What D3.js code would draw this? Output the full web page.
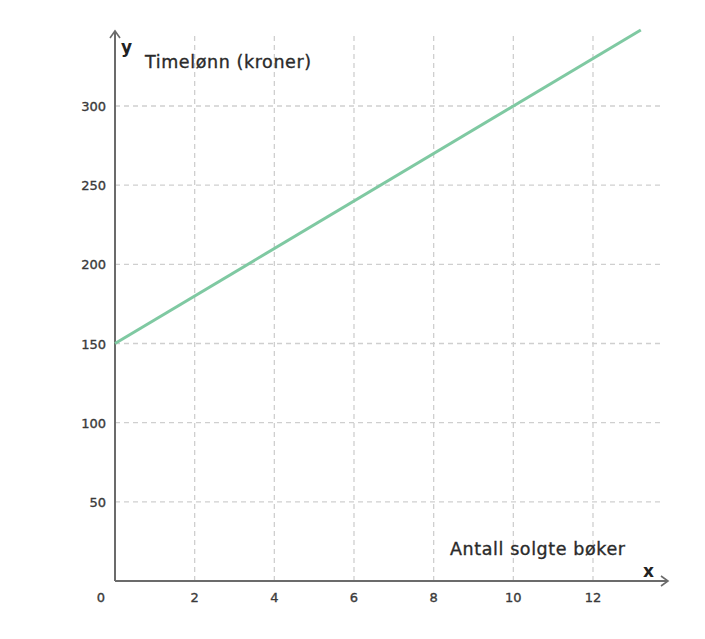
<!DOCTYPE html>
<html><head><meta charset="utf-8">
<script src="https://cdn.jsdelivr.net/npm/d3@7"></script>
<style>body{margin:0;background:#fff;} text{font-family:"DejaVu Sans","Open Sans",sans-serif;}</style>
</head><body>
<svg id="c" width="705" height="639"></svg>
<script>
const xTicks = [2, 4, 6, 8, 10, 12];
const yTicks = [50, 100, 150, 200, 250, 300];
const lineX = [0, 13.2];
const intercept = 150, slope = 15;
const lineY = lineX.map(x => intercept + slope * x);
const xLabel = "Antall solgte bøker";
const yLabel = "Timelønn (kroner)";

const svg = d3.select("#c");
const x = d3.scaleLinear().domain([0, 12]).range([115, 593]);
const y = d3.scaleLinear().domain([0, 300]).range([581, 106]);
const xMax = 13.77, yMax = 346.5;

const g = svg.append("g");
// grid
g.selectAll(".vg").data(xTicks).join("line")
  .attr("x1", d => x(d)).attr("x2", d => x(d))
  .attr("y1", y(0)).attr("y2", y(yMax))
  .attr("stroke", "#cfcfcf").attr("stroke-width", 1.3).attr("stroke-dasharray", "5,4");
g.selectAll(".hg").data(yTicks).join("line")
  .attr("y1", d => y(d)).attr("y2", d => y(d))
  .attr("x1", x(0)).attr("x2", x(xMax))
  .attr("stroke", "#cfcfcf").attr("stroke-width", 1.3).attr("stroke-dasharray", "5,4");

// axes
const axisCol = "#6b6b6b";
g.append("line").attr("x1", x(0)).attr("x2", 668).attr("y1", y(0)).attr("y2", y(0))
  .attr("stroke", axisCol).attr("stroke-width", 2);
g.append("line").attr("x1", x(0)).attr("x2", x(0)).attr("y1", y(0)).attr("y2", 31)
  .attr("stroke", axisCol).attr("stroke-width", 2);
g.append("path").attr("d", `M661,${y(0)-5} L668,${y(0)} L661,${y(0)+5}`)
  .attr("fill", "none").attr("stroke", axisCol).attr("stroke-width", 1.6);
g.append("path").attr("d", `M${x(0)-5},38 L${x(0)},31 L${x(0)+5},38`)
  .attr("fill", "none").attr("stroke", axisCol).attr("stroke-width", 1.6);

// tick labels
const tk = sel => sel.attr("font-size", 13).attr("fill", "#3a3a3a")
  .attr("stroke", "#3a3a3a").attr("stroke-width", 0.35);
tk(g.selectAll(".xt").data(xTicks).join("text")
  .attr("x", d => x(d)).attr("y", 602).attr("text-anchor", "middle").text(d => d));
tk(g.selectAll(".yt").data(yTicks).join("text")
  .attr("x", 106).attr("y", d => y(d) + 5).attr("text-anchor", "end").text(d => d));
tk(g.append("text").attr("x", 101).attr("y", 602).attr("text-anchor", "middle").text("0"));

// labels
const lb = sel => sel.attr("font-size", 17.5).attr("fill", "#2a2a2a")
  .attr("stroke", "#2a2a2a").attr("stroke-width", 0.35).attr("letter-spacing", 0.6);
g.append("text").attr("x", 121).attr("y", 53).attr("font-size", 17).attr("font-weight", "bold").attr("fill", "#222").text("y");
lb(g.append("text").attr("x", 145).attr("y", 68).text(yLabel));
g.append("text").attr("x", 643).attr("y", 577).attr("font-size", 17).attr("font-weight", "bold").attr("fill", "#222").text("x");
lb(g.append("text").attr("x", 450).attr("y", 555).text(xLabel));

// line
const line = d3.line().x(d => x(d[0])).y(d => y(d[1]));
g.append("path").datum(lineX.map((v, i) => [v, lineY[i]]))
  .attr("d", line).attr("fill", "none").attr("stroke", "#7fc9a2").attr("stroke-width", 3);
</script>
</body></html>
